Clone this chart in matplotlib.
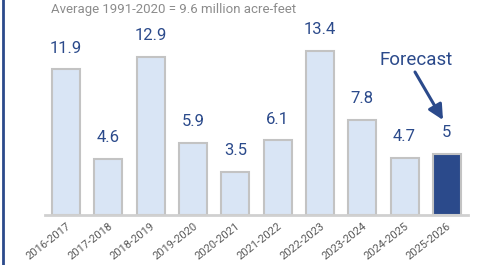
import matplotlib
matplotlib.use("Agg")
import matplotlib.pyplot as plt

plt.rcParams['font.family'] = ['Roboto', 'DejaVu Sans']

categories = ["2016-2017", "2017-2018", "2018-2019", "2019-2020", "2020-2021",
              "2021-2022", "2022-2023", "2023-2024", "2024-2025", "2025-2026"]
values = [11.9, 4.6, 12.9, 5.9, 3.5, 6.1, 13.4, 7.8, 4.7, 5]
labels = ["11.9", "4.6", "12.9", "5.9", "3.5", "6.1", "13.4", "7.8", "4.7", "5"]
subtitle = "Average 1991-2020 = 9.6 million acre-feet"

W, H = 489, 265
fig = plt.figure(figsize=(W/100, H/100), dpi=100)
ax = fig.add_axes([45/W, (H-215)/H, 423/W, 215/H])

light = "#d9e5f5"
dark = "#2b4a8b"
colors = [light]*9 + [dark]
x = list(range(len(values)))
ax.bar(x, values, width=0.66, color=colors, edgecolor="#c3c3c3", linewidth=1.5, zorder=2)

for xi, v, lab in zip(x, values, labels):
    ax.annotate(lab, (xi, v), xytext=(0, 10), textcoords="offset points",
                ha="center", va="bottom", fontsize=12, color="#2b4a8b")

ax.set_xlim(-0.5, 9.5)
ax.set_ylim(0, 215/12.23)
for s in ["top", "right", "left"]:
    ax.spines[s].set_visible(False)
ax.spines["bottom"].set_color("#d0d0d0")
ax.spines["bottom"].set_linewidth(2)
ax.set_yticks([])
ax.set_xticks(x)
ax.set_xticklabels(categories, rotation=38, ha="right", va="top",
                   rotation_mode="anchor", fontsize=8, color="#595959")
ax.tick_params(axis="x", length=0, pad=4)

fig.text(51/W, 1 - 10/H, subtitle, fontsize=9.5, color="#8c8c8c", va="center", ha="left")

# Forecast annotation (text and arrow placed in axes fraction)
ax.annotate("", xy=((443-45)/423, (215-120)/215), xytext=((415-45)/423, (215-72)/215),
            xycoords="axes fraction", textcoords="axes fraction",
            arrowprops=dict(arrowstyle="-|>,head_length=0.9,head_width=0.45",
                            color="#2b4a8b", lw=2.2, shrinkA=0, shrinkB=0))
ax.text((416-45)/423, (215-60)/215, "Forecast", transform=ax.transAxes,
        ha="center", va="center", fontsize=13.5, color="#2b4a8b")

# left frame line
fig.add_artist(plt.Line2D([3/W, 3/W], [0, 1], transform=fig.transFigure,
                          color="#2b4a8b", lw=2))

fig.savefig("out.png", dpi=100)
